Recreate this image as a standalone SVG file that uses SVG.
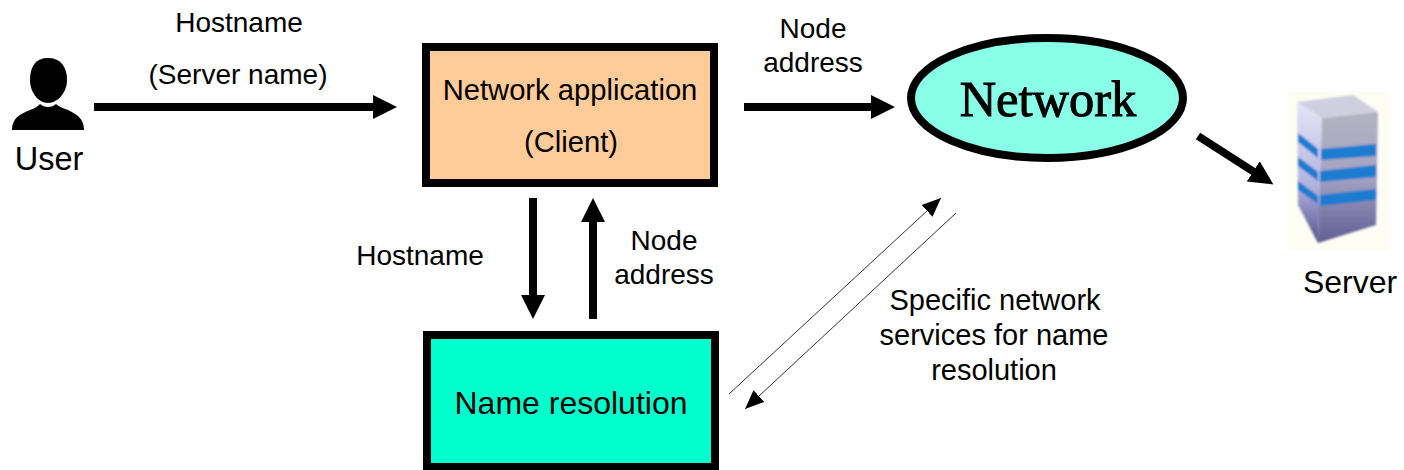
<svg xmlns="http://www.w3.org/2000/svg" width="1404" height="470" viewBox="0 0 1404 470">
<defs>
<linearGradient id="front" x1="0" y1="0" x2="0" y2="1"><stop offset="0" stop-color="#b4b3c0"/><stop offset="0.5" stop-color="#a3a3c4"/><stop offset="1" stop-color="#5f5c92"/></linearGradient>
<linearGradient id="side" x1="0" y1="0" x2="0" y2="1"><stop offset="0" stop-color="#e6e6f6"/><stop offset="0.6" stop-color="#b0b2de"/><stop offset="1" stop-color="#55528a"/></linearGradient>
<filter id="blur" x="-10%" y="-10%" width="120%" height="120%"><feGaussianBlur stdDeviation="1.3"/></filter>
<marker id="big" markerUnits="userSpaceOnUse" markerWidth="26" markerHeight="26" refX="14" refY="13" orient="auto"><path d="M0 1L24 13L0 25Z" fill="#000"/></marker>
<marker id="thin" markerUnits="userSpaceOnUse" markerWidth="20" markerHeight="18" refX="19" refY="9" orient="auto"><path d="M0 1L19 9L0 17Z" fill="#000"/></marker>
</defs>
<style>
text{font-family:"Liberation Sans",Arial,sans-serif;font-size:28px;fill:#000;text-anchor:middle}
.box{stroke:#000;stroke-width:8}
.thick{stroke:#000;stroke-width:8;fill:none;marker-end:url(#big)}
.fine{stroke:#333;stroke-width:1;fill:none;marker-end:url(#thin)}
</style>
<g id="connectors">
<path class="thick" d="M94 107H387"/>
<path class="thick" d="M744 107H885"/>
<path class="thick" d="M1198 136L1265 179"/>
<path class="thick" d="M533 198V309"/>
<path class="thick" d="M593 319V208"/>
<path class="fine" d="M729 394L941 198"/>
<path class="fine" d="M956 213L745 409"/>
</g>
<g id="user">
<path fill="#000" d="M48 58C36 58 30 66 30 80C30 92 38 103 48 103C58 103 67 92 67 80C67 66 60 58 48 58Z"/>
<path fill="#000" d="M12 130C12 118 20 114 30 110C36 108 38 106 40 104C44 108 52 108 56 104C58 106 62 108 68 110C76 114 84 118 84 130Z"/>
<text x="49" y="170" style="font-size:32.5px">User</text>
</g>
<g id="client">
<rect class="box" x="426" y="47" width="288" height="136" fill="#ffcc99"/>
<text x="570" y="100" style="font-size:29.2px">Network application</text>
<text x="571" y="152" style="font-size:29.2px">(Client)</text>
</g>
<g id="network">
<ellipse cx="1047" cy="98" rx="136" ry="60" fill="#88ffe6" stroke="#000" stroke-width="8"/>
<text x="1048" y="116" style="font-family:'Liberation Serif','Times New Roman',serif;font-size:50.5px;stroke:#000;stroke-width:1">Network</text>
</g>
<g id="server">
<rect x="1288" y="92" width="102" height="158" fill="#fdfdf4"/>
<g filter="url(#blur)">
<path d="M1297 102L1353 95L1378 112L1322 118Z" fill="#cfcfe0"/>
<path d="M1297 102L1322 118L1318 243L1298 205Z" fill="url(#side)"/>
<path d="M1322 118L1378 112L1376 225L1318 243Z" fill="url(#front)"/>
<path d="M1321 149L1376 144V156L1321 160ZM1320 171L1376 165V177L1320 182ZM1320 195L1376 189V200L1320 206Z" fill="#1d7cd0"/>
<path d="M1298 133L1318 149V158L1298 142ZM1298 157L1318 172V181L1298 166ZM1298 181L1318 196V204L1298 190Z" fill="#1d7cd0"/>
</g>
<text x="1350" y="293" style="font-size:32px">Server</text>
</g>
<g id="nameres">
<rect class="box" x="427" y="335" width="288" height="132" fill="#00ffcc"/>
<text x="571" y="414" style="font-size:32px">Name resolution</text>
</g>
<g id="labels">
<text x="239" y="32">Hostname</text>
<text x="238" y="84">(Server name)</text>
<text x="813" y="38">Node</text>
<text x="813" y="72">address</text>
<text x="420" y="265">Hostname</text>
<text x="664" y="250">Node</text>
<text x="664" y="284">address</text>
<text x="995" y="310" style="font-size:29px">Specific network</text>
<text x="994" y="345" style="font-size:29px">services for name</text>
<text x="994" y="380" style="font-size:29px">resolution</text>
</g>
</svg>
